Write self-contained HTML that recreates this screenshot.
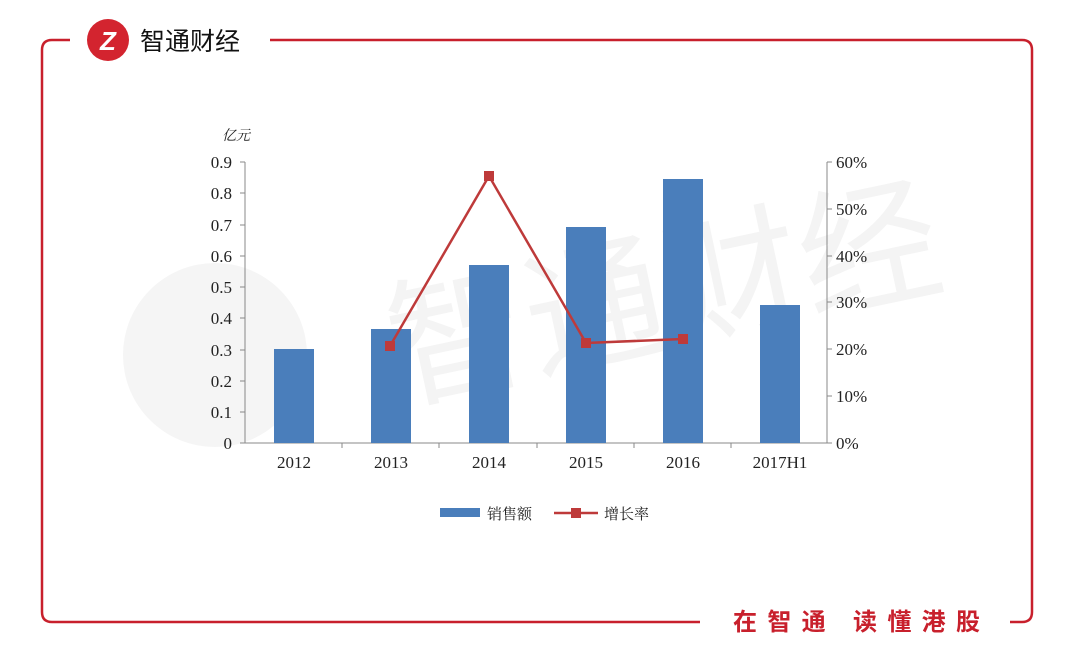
<!DOCTYPE html>
<html><head><meta charset="utf-8"><style>
html,body{margin:0;padding:0;background:#fff;}
body{width:1080px;height:647px;overflow:hidden;position:relative;font-family:"Liberation Serif","Noto Serif CJK SC",serif;}
</style></head><body>
<svg width="1080" height="647" viewBox="0 0 1080 647" xmlns="http://www.w3.org/2000/svg">
<path d="M70,40 H52 Q42,40 42,50 V612 Q42,622 52,622 H700" fill="none" stroke="#c8202c" stroke-width="2.5"/>
<path d="M270,40 H1022 Q1032,40 1032,50 V612 Q1032,622 1022,622 H1010" fill="none" stroke="#c8202c" stroke-width="2.5"/>
<circle cx="108" cy="40" r="21" fill="#d3242f"/>
<text x="108" y="50" font-family="Liberation Sans,sans-serif" font-size="26" font-weight="bold" fill="#fff" text-anchor="middle" font-style="italic">Z</text>
<text x="140" y="50" font-family="Liberation Sans,'Noto Sans CJK SC',sans-serif" font-size="25" fill="#111">智通财经</text>
<text x="733" y="630" font-family="Liberation Sans,'Noto Sans CJK SC',sans-serif" font-size="24" font-weight="bold" fill="#c8202c" textLength="247" lengthAdjust="spacing">在智通 读懂港股</text>
<circle cx="215" cy="355" r="92" fill="#f5f5f5"/>
<text x="400" y="400" font-family="'Noto Sans CJK SC',sans-serif" font-size="140" fill="#f4f4f4" transform="rotate(-12 400 400)">智通财经</text>
<g font-size="17" fill="#222">
<text x="222" y="140" font-size="14" font-family="'Noto Serif CJK SC',serif" font-style="italic">亿元</text>
<g text-anchor="end">
<text x="232" y="449">0</text><text x="232" y="418">0.1</text><text x="232" y="387">0.2</text><text x="232" y="356">0.3</text><text x="232" y="324">0.4</text><text x="232" y="293">0.5</text><text x="232" y="262">0.6</text><text x="232" y="231">0.7</text><text x="232" y="199">0.8</text><text x="232" y="168">0.9</text>
</g>
<g text-anchor="start">
<text x="836" y="449">0%</text><text x="836" y="402">10%</text><text x="836" y="355">20%</text><text x="836" y="308">30%</text><text x="836" y="262">40%</text><text x="836" y="215">50%</text><text x="836" y="168">60%</text>
</g>
<g text-anchor="middle">
<text x="294" y="468">2012</text><text x="391" y="468">2013</text><text x="489" y="468">2014</text><text x="586" y="468">2015</text><text x="683" y="468">2016</text><text x="780" y="468">2017H1</text>
</g>
</g>
<g stroke="#888" stroke-width="1" fill="none">
<path d="M245,162 V443 H827 V162"/>
<path d="M240,443H245M240,412H245M240,381H245M240,350H245M240,318H245M240,287H245M240,256H245M240,225H245M240,193H245M240,162H245"/>
<path d="M827,443H832M827,396H832M827,349H832M827,302H832M827,256H832M827,209H832M827,162H832"/>
<path d="M342,443v5M439,443v5M537,443v5M634,443v5M731,443v5"/>
</g>
<g fill="#4a7ebb">
<rect x="274" y="349" width="40" height="94"/>
<rect x="371" y="329" width="40" height="114"/>
<rect x="469" y="265" width="40" height="178"/>
<rect x="566" y="227" width="40" height="216"/>
<rect x="663" y="179" width="40" height="264"/>
<rect x="760" y="305" width="40" height="138"/>
</g>
<polyline points="390,346 489,176 586,343 683,339" fill="none" stroke="#be3a3a" stroke-width="2.5"/>
<g fill="#be3a3a">
<rect x="385" y="341" width="10" height="10"/><rect x="484" y="171" width="10" height="10"/><rect x="581" y="338" width="10" height="10"/><rect x="678" y="334" width="10" height="10"/>
</g>
<rect x="440" y="508" width="40" height="9" fill="#4a7ebb"/>
<text x="487" y="519" font-size="15" font-family="'Noto Serif CJK SC',serif" fill="#222">销售额</text>
<line x1="554" y1="513" x2="598" y2="513" stroke="#be3a3a" stroke-width="2.5"/>
<rect x="571" y="508" width="10" height="10" fill="#be3a3a"/>
<text x="604" y="519" font-size="15" font-family="'Noto Serif CJK SC',serif" fill="#222">增长率</text>
</svg>
</body></html>
